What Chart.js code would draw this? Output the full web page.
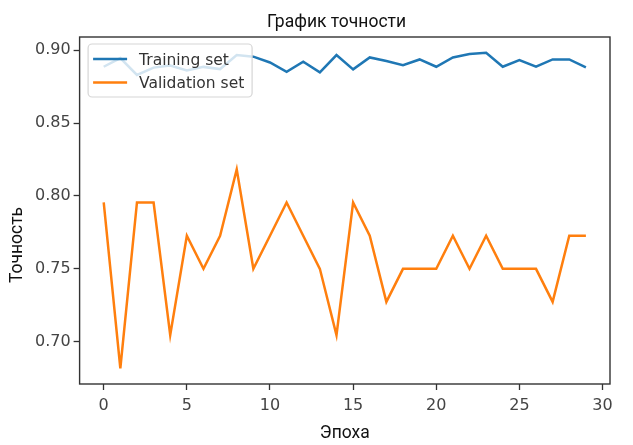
<!DOCTYPE html>
<html>
<head>
<meta charset="utf-8">
<script src="https://cdn.jsdelivr.net/npm/chart.js@4.4.1/dist/chart.umd.min.js"></script>
<style>
  html, body { margin: 0; padding: 0; background: #ffffff; }
  canvas { display: block; }
</style>
</head>
<body>
<canvas id="c" width="633" height="445"></canvas>
<script>
// ---- data ----
const epochs = [0, 1, 2, 3, 4, 5, 6, 7, 8, 9, 10, 11, 12, 13, 14, 15, 16, 17, 18, 19, 20, 21, 22, 23, 24, 25, 26, 27, 28, 29];
const trainingAcc = [0.8886, 0.8945, 0.8830, 0.8880, 0.8895, 0.8860, 0.8885, 0.8870, 0.8966, 0.8955,
                     0.8915, 0.8851, 0.8920, 0.8848, 0.8966, 0.8868, 0.8950, 0.8925, 0.8897, 0.8936,
                     0.8886, 0.8950, 0.8973, 0.8982, 0.8886, 0.8932, 0.8886, 0.8936, 0.8936, 0.8881];
const validationAcc = [0.7955, 0.6818, 0.7955, 0.7955, 0.7045, 0.7727, 0.7500, 0.7727, 0.8182, 0.7500,
                       0.7727, 0.7955, 0.7727, 0.7500, 0.7045, 0.7955, 0.7727, 0.7273, 0.7500, 0.7500,
                       0.7500, 0.7727, 0.7500, 0.7727, 0.7500, 0.7500, 0.7500, 0.7273, 0.7727, 0.7727];
const seriesNames = ['Training set', 'Validation set'];
const chartTitle = 'График точности';
const xTitle = 'Эпоха';
const yTitle = 'Точность';
const xTickStep = 5;
const yTickStep = 0.05;

const toPoints = (vals) => vals.map((v, i) => ({ x: epochs[i], y: v }));

const BLUE = '#1f77b4';
const ORANGE = '#ff7f0e';
const AXIS = '#333333';

const decor = {
  id: 'decor',
  beforeDraw(chart) {
    const ctx = chart.ctx;
    ctx.save();
    ctx.fillStyle = '#ffffff';
    ctx.fillRect(0, 0, chart.width, chart.height);
    ctx.restore();
  },
  afterLayout(chart) {
    const tb = chart.titleBlock;
    if (tb) {
      const d = 336.5 - (tb.left + tb.right) / 2;
      tb.left += d; tb.right += d;
    }
    const ys = chart.scales.y;
    if (ys && !ys.__patched) {
      const orig = ys.drawTitle;
      ys.drawTitle = function () {
        const t = this.top, b = this.bottom;
        const d = 245 - (t + b) / 2;
        this.top += d; this.bottom += d;
        orig.call(this);
        this.top = t; this.bottom = b;
      };
      ys.__patched = true;
    }
  },
  afterDatasetsDraw(chart) {
    const ctx = chart.ctx;
    const a = chart.chartArea;
    ctx.save();
    // spines
    ctx.strokeStyle = AXIS;
    ctx.lineWidth = 1.4;
    ctx.strokeRect(a.left, a.top, a.right - a.left, a.bottom - a.top);
    // legend
    const lx = a.left + 8.5, ly = a.top + 7, lw = 164, lh = 53;
    ctx.beginPath();
    if (ctx.roundRect) ctx.roundRect(lx, ly, lw, lh, 4); else ctx.rect(lx, ly, lw, lh);
    ctx.fillStyle = 'rgba(255,255,255,0.8)';
    ctx.fill();
    ctx.strokeStyle = '#d6d6d6';
    ctx.lineWidth = 1.2;
    ctx.stroke();
    const ds = chart.data.datasets;
    const rows = [ly + 15, ly + 38.5];
    ds.forEach((d, i) => {
      ctx.strokeStyle = d.borderColor;
      ctx.lineWidth = 2.5;
      ctx.beginPath();
      ctx.moveTo(lx + 5, rows[i]);
      ctx.lineTo(lx + 39, rows[i]);
      ctx.stroke();
      ctx.fillStyle = '#333333';
      ctx.font = '15.5px "DejaVu Sans"';
      ctx.textBaseline = 'alphabetic';
      ctx.textAlign = 'left';
      ctx.fillText(d.label, lx + 51, rows[i] + 5.5);
    });
    ctx.restore();
  }
};

new Chart(document.getElementById('c'), {
  type: 'line',
  data: {
    datasets: [
      { label: seriesNames[0], data: toPoints(trainingAcc), borderColor: BLUE, backgroundColor: BLUE,
        borderWidth: 2.5, pointRadius: 0, tension: 0, fill: false },
      { label: seriesNames[1], data: toPoints(validationAcc), borderColor: ORANGE, backgroundColor: ORANGE,
        borderWidth: 2.5, pointRadius: 0, tension: 0, fill: false }
    ]
  },
  options: {
    responsive: false,
    animation: false,
    layout: { padding: { left: 0, right: 23, top: 0, bottom: 0 } },
    plugins: {
      legend: { display: false },
      tooltip: { enabled: false },
      title: {
        display: true,
        text: chartTitle,
        color: '#111111',
        font: { family: 'Roboto', size: 17.5, weight: 'normal', lineHeight: 1.2 },
        padding: { top: 12.5, bottom: 3.5 }
      }
    },
    scales: {
      x: {
        type: 'linear',
        min: -1.45,
        max: 30.45,
        afterFit(s) { s.height = 61; },
        border: { display: false },
        grid: { drawOnChartArea: false, drawTicks: true, tickLength: 6, tickWidth: 1.3, tickColor: AXIS },
        ticks: { stepSize: xTickStep, includeBounds: false, color: '#444444', padding: 6,
                 font: { family: 'DejaVu Sans', size: 16 }, maxRotation: 0 },
        title: { display: true, text: xTitle, color: '#111111',
                 font: { family: 'Roboto', size: 17.5, lineHeight: 1.2 }, padding: { top: 0, bottom: 1 } }
      },
      y: {
        min: 0.671,
        max: 0.909,
        afterFit(s) { s.width = 79.6; },
        border: { display: false },
        grid: { drawOnChartArea: false, drawTicks: true, tickLength: 6, tickWidth: 1.3, tickColor: AXIS },
        ticks: { stepSize: yTickStep, includeBounds: false, color: '#444444', padding: 3,
                 font: { family: 'DejaVu Sans', size: 16 },
                 callback: (v) => v.toFixed(2) },
        title: { display: true, text: yTitle, color: '#111111',
                 font: { family: 'Roboto', size: 17.5, lineHeight: 1.2 }, padding: { top: 7, bottom: 0 } }
      }
    }
  },
  plugins: [decor]
});
</script>
</body>
</html>
